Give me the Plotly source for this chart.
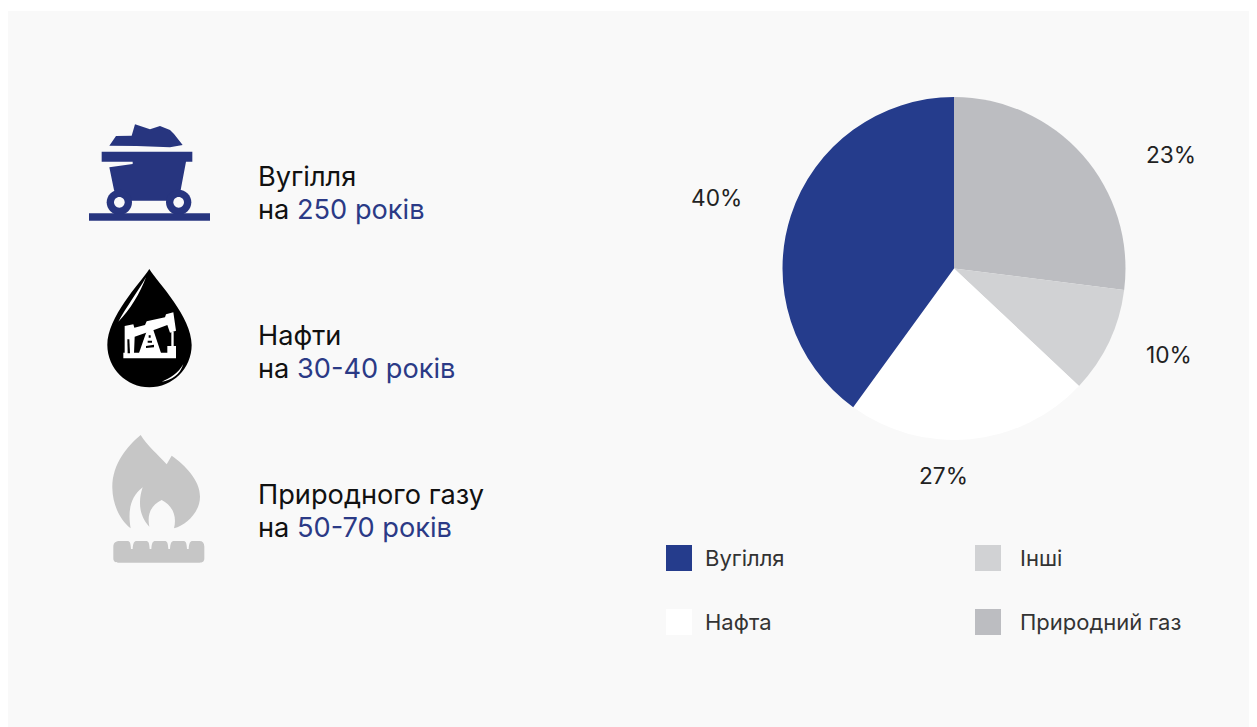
import plotly.graph_objects as go
import re

# Data
slice_names = ["Природний газ", "Інші", "Нафта", "Вугілля"]
slice_values = [27, 10, 23, 40]
slice_colors = ["#bcbdc1", "#d1d2d4", "#ffffff", "#253c8c"]
printed_labels = ["23%", "10%", "27%", "40%"]
label_x = [1171, 1169, 943, 716]
label_y = [154, 354, 475, 197]
legend_names = ["Вугілля", "Нафта", "Інші", "Природний газ"]
legend_colors = ["#253c8c", "#ffffff", "#d1d2d4", "#bcbdc1"]
legend_x = [666, 666, 975, 975]
legend_y = [545, 609, 545, 609]
reserve_heads = ["Вугілля", "Нафти", "Природного газу"]
reserve_years = ["250 років", "30-40 років", "50-70 років"]
reserve_y = [176.4, 335.4, 494.4]

# Page geometry
W, H = 1249, 719
OX, OY = 8, 8
BG = "#f9f9f9"
BLUE = "#2b3a86"
CART = "#27357f"
FONT = "Inter"


def z(path, ox, oy, s=3.0):
    """Convert an icon path drawn in zoomed-crop coordinates to page coordinates."""
    vals = iter(range(10**6))
    def rep(m):
        i = next(vals)
        v = float(m.group(0))
        return f"{(v / s + (ox if i % 2 == 0 else oy)):.2f}"
    return re.sub(r"-?\d+\.?\d*", rep, path)


shapes = []


def add_path(p, color, ox, oy):
    shapes.append(dict(type="path", path=z(p, ox, oy), fillcolor=color, line=dict(width=0),
                       xref="x", yref="y", layer="above"))


def circle(cx, cy, r):
    k = 0.5523 * r
    return (f"M{cx-r},{cy} C{cx-r},{cy-k} {cx-k},{cy-r} {cx},{cy-r} C{cx+k},{cy-r} {cx+r},{cy-k} {cx+r},{cy} "
            f"C{cx+r},{cy+k} {cx+k},{cy+r} {cx},{cy+r} C{cx-k},{cy+r} {cx-r},{cy+k} {cx-r},{cy} Z")


# panel
shapes.append(dict(type="rect", x0=8, x1=1257, y0=11, y1=727, fillcolor=BG, line=dict(width=0),
                   xref="x", yref="y", layer="below"))

# coal cart
c = (70, 110)
add_path("M118,107 L138,78 L185,77 L195,43 L240,58 L270,48 L300,60 L312,72 L338,105 L300,112 L200,108 Z", CART, *c)
add_path("M95,125 L367,125 L367,155 L348,155 L332,240 L326,272 L148,272 L132,240 L118,172 L188,162 L188,155 L95,155 Z", CART, *c)
add_path(circle(148, 277, 38), CART, *c)
add_path(circle(326, 277, 38), CART, *c)
add_path(circle(148, 277, 16), BG, *c)
add_path(circle(326, 277, 16), BG, *c)
add_path("M57,310 L420,310 L420,332 L57,332 Z", CART, *c)

# oil drop
d = (90, 260)
add_path("M178,27 C150,70 52,170 52,255 C52,325 110,382 178,382 C248,382 305,325 305,255 C305,170 205,70 178,27 Z", "#000000", *d)
add_path("M168,52 C140,100 110,140 85,185 C120,150 150,100 168,52 Z", "#ffffff", *d)
add_path("M280,312 C265,340 240,355 215,365 C245,360 270,345 280,312 Z", "#ffffff", *d)
add_path("M100,278 L258,278 L258,295 L100,295 Z", "#ffffff", *d)
add_path("M104,198 L130,193 L133,203 L165,195 L170,184 L225,172 L228,163 L250,157 L258,212 L240,218 L232,195 L200,207 L134,230 L132,280 L104,280 Z", "#ffffff", *d)
add_path("M112,238 L118,238 L120,280 L113,280 Z", "#000000", *d)
add_path("M172,208 L188,204 L214,282 L146,282 Z", "#ffffff", *d)
add_path("M176,226 L182,226 L182,233 L176,233 Z M173,242 L186,242 L186,248 L173,248 Z M168,258 L192,254 L192,262 L168,264 Z", "#000000", *d)
add_path("M244,215 L251,215 L251,258 L258,258 L258,282 L232,282 L232,258 L244,258 Z", "#ffffff", *d)

# gas flame
f = (90, 425)
GAS = "#c6c6c6"
add_path("M152,30 C110,65 65,120 67,190 C68,240 90,285 122,310 C115,270 115,220 158,187 C145,225 145,270 178,305 "
         "C170,265 185,240 215,225 C245,240 262,270 252,310 C290,300 330,260 330,215 C330,165 285,120 245,92 "
         "L230,118 C205,90 170,60 152,30 Z", GAS, *f)
add_path("M70,365 C70,352 78,348 90,348 L112,348 C120,348 122,355 123,372 L128,372 C129,355 132,348 140,348 "
         "L168,348 C176,348 178,355 179,372 L184,372 C185,355 188,348 196,348 L224,348 C232,348 234,355 235,372 "
         "L240,372 C241,355 244,348 252,348 L280,348 C288,348 290,355 291,372 L296,372 C297,355 300,348 308,348 "
         "L328,348 C338,348 343,354 343,365 L343,400 C343,410 338,413 328,413 L85,413 C76,413 70,410 70,400 Z", GAS, *f)

# legend swatches
for lx, ly, col in zip(legend_x, legend_y, legend_colors):
    shapes.append(dict(type="rect", x0=lx, x1=lx + 26, y0=ly, y1=ly + 26, fillcolor=col,
                       line=dict(width=0), xref="x", yref="y", layer="above"))

ann = []


def text(x, y, t, size, color, anchor="left"):
    ann.append(dict(x=x, y=y, xref="x", yref="y", text=t, showarrow=False, xanchor=anchor, yanchor="middle",
                    font=dict(family=FONT, size=size, color=color), borderpad=0, borderwidth=0))


for head, yrs, y in zip(reserve_heads, reserve_years, reserve_y):
    text(258, y, head, 27.2, "#111111")
    text(258, y + 33, f'на <span style="color:{BLUE}">{yrs}</span>', 27.2, "#111111")
for lab, x, y in zip(printed_labels, label_x, label_y):
    text(x, y, lab, 22.7, "#222222", "center")
for name, lx, ly in zip(legend_names, legend_x, legend_y):
    text(lx + (39 if lx < 900 else 45), ly + 13, name, 22, "#333333")

CX, CY, R = 954, 268.5, 171.5
fig = go.Figure(go.Pie(
    labels=slice_names, values=slice_values, sort=False, direction="clockwise", rotation=0,
    marker=dict(colors=slice_colors, line=dict(width=0)), textinfo="none", showlegend=False,
    hoverinfo="label+percent",
    domain=dict(x=[(CX - R - OX) / W, (CX + R - OX) / W],
                y=[1 - (CY + R - OY) / H, 1 - (CY - R - OY) / H]),
))
fig.update_layout(
    width=W, height=H, margin=dict(l=0, r=0, t=0, b=0, pad=0),
    paper_bgcolor="#ffffff", plot_bgcolor="rgba(0,0,0,0)",
    xaxis=dict(range=[OX, OX + W], visible=False, fixedrange=True),
    yaxis=dict(range=[OY + H, OY], visible=False, fixedrange=True),
    shapes=shapes, annotations=ann, showlegend=False,
)
fig.write_html("out.html", config={"displayModeBar": False},
               post_script="document.documentElement.style.overflow='hidden';")
